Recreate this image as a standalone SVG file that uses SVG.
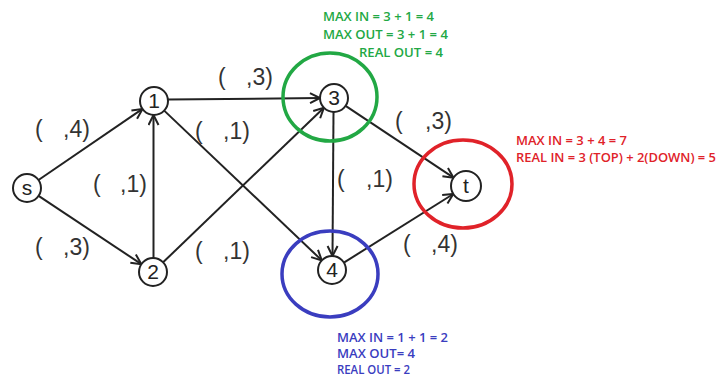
<svg xmlns="http://www.w3.org/2000/svg" width="720" height="378" viewBox="0 0 720 378">
<style>
.node circle{fill:#fff;stroke:#222;stroke-width:2}
.node text{font-family:"Liberation Sans",Arial,sans-serif;font-size:21px;fill:#222;text-anchor:middle}
.edge{stroke:#222;stroke-width:2;fill:none;marker-end:url(#arr)}
.lbl{font-family:"Liberation Sans",Arial,sans-serif;font-size:23px;fill:#333}
.ann{font-family:"Open Sans","Liberation Sans",sans-serif;font-size:12px;font-weight:600}
.ring{fill:none;stroke-width:3.5}
</style>
<defs>
<marker id="arr" markerUnits="userSpaceOnUse" markerWidth="14" markerHeight="14" refX="11" refY="6" orient="auto">
<polyline points="1,1 11,6 1,11" fill="none" stroke="#222" stroke-width="2"/>
</marker>
</defs>
<rect width="720" height="378" fill="#fff"/>
<g id="connectors">
<line class="edge" x1="38.5" y1="180" x2="142.5" y2="108.9"/>
<line class="edge" x1="38.6" y1="195.8" x2="141.4" y2="264.2"/>
<line class="edge" x1="153.5" y1="258" x2="153.5" y2="115"/>
<line class="edge" x1="168" y1="99.5" x2="320" y2="98"/>
<line class="edge" x1="164.2" y1="110.6" x2="321.8" y2="260.4"/>
<line class="edge" x1="163.1" y1="262.3" x2="323.9" y2="107.7"/>
<line class="edge" x1="333.5" y1="112" x2="332.5" y2="256"/>
<line class="edge" x1="345.6" y1="105.8" x2="453.5" y2="177.7"/>
<line class="edge" x1="343.9" y1="262.6" x2="453.3" y2="194"/>
</g>
<g id="edge-labels" class="lbl">
<text y="137"><tspan x="35">(</tspan><tspan x="63">,4)</tspan></text>
<text y="192"><tspan x="93">(</tspan><tspan x="120">,1)</tspan></text>
<text y="255"><tspan x="35">(</tspan><tspan x="63">,3)</tspan></text>
<text y="85"><tspan x="218">(</tspan><tspan x="246">,3)</tspan></text>
<text y="139"><tspan x="195">(</tspan><tspan x="223">,1)</tspan></text>
<text y="259"><tspan x="195">(</tspan><tspan x="223">,1)</tspan></text>
<text y="187"><tspan x="337">(</tspan><tspan x="366">,1)</tspan></text>
<text y="129"><tspan x="395">(</tspan><tspan x="425">,3)</tspan></text>
<text y="252"><tspan x="403">(</tspan><tspan x="431">,4)</tspan></text>
</g>
<g id="node-s" class="node"><circle cx="27" cy="188" r="14"/><text x="27" y="195">s</text></g>
<g id="node-1" class="node"><circle cx="154" cy="101" r="14"/><text x="154" y="108">1</text></g>
<g id="node-2" class="node"><circle cx="153" cy="272" r="14"/><text x="153" y="279">2</text></g>
<g id="node-3" class="node"><circle cx="334" cy="98" r="14"/><text x="334" y="105">3</text></g>
<g id="node-4" class="node"><circle cx="332" cy="270" r="14"/><text x="332" y="277">4</text></g>
<g id="node-t" class="node"><circle cx="466" cy="186" r="15"/><text x="466" y="193">t</text></g>
<g id="highlight-3">
<ellipse class="ring" cx="330" cy="97" rx="47" ry="44" stroke="#22a844"/>
<g class="ann" fill="#22a844">
<text x="323" y="21" textLength="111" lengthAdjust="spacingAndGlyphs">MAX IN = 3 + 1 = 4</text>
<text x="323" y="39" textLength="125" lengthAdjust="spacingAndGlyphs">MAX OUT = 3 + 1 = 4</text>
<text x="359" y="57" textLength="84" lengthAdjust="spacingAndGlyphs">REAL OUT = 4</text>
</g>
</g>
<g id="highlight-t">
<ellipse class="ring" cx="463" cy="184" rx="49" ry="44" stroke="#e02229"/>
<g class="ann" fill="#e02229">
<text x="516" y="145" textLength="111" lengthAdjust="spacingAndGlyphs">MAX IN = 3 + 4 = 7</text>
<text x="516" y="162" textLength="200" lengthAdjust="spacingAndGlyphs">REAL IN = 3 (TOP) + 2(DOWN) = 5</text>
</g>
</g>
<g id="highlight-4">
<ellipse class="ring" cx="330" cy="274" rx="48" ry="43" stroke="#3a3dbf"/>
<g class="ann" fill="#3a3dbf">
<text x="337" y="342" textLength="111" lengthAdjust="spacingAndGlyphs">MAX IN = 1 + 1 = 2</text>
<text x="337" y="358" textLength="78" lengthAdjust="spacingAndGlyphs">MAX OUT= 4</text>
<text x="337" y="374" textLength="73" lengthAdjust="spacingAndGlyphs">REAL OUT = 2</text>
</g>
</g>
</svg>
